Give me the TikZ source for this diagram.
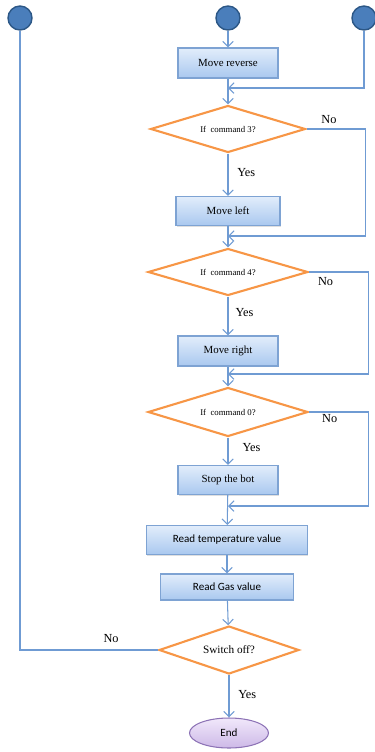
\documentclass[tikz,border=0pt]{standalone}
\usepackage{fontspec}
\setmainfont{Liberation Serif}
\setsansfont{Carlito}
\usepackage{tikz}
\usetikzlibrary{shapes.geometric}
\usetikzlibrary{arrows.meta}
\usetikzlibrary{shadows}
\definecolor{lineblue}{HTML}{6F9BD3}
\definecolor{boxtop}{HTML}{E2EDFB}
\definecolor{boxbot}{HTML}{A9C8EF}
\definecolor{boxline}{HTML}{7EA3D3}
\definecolor{decorange}{HTML}{F79646}
\definecolor{dotfill}{HTML}{4A7EBB}
\definecolor{dotline}{HTML}{2C5786}
\definecolor{endtop}{HTML}{F1E8FB}
\definecolor{endbot}{HTML}{CDB9E7}
\definecolor{endline}{HTML}{8C72B5}

\begin{document}
\begin{tikzpicture}[x=0.02cm,y=-0.02cm,
	flow/.style={draw=lineblue,line width=0.6pt,-{Straight Barb[length=3pt,width=6pt]}},
	link/.style={draw=lineblue,line width=0.6pt},
	dot node/.style={circle, draw=dotline, line width=0.8pt, fill=dotfill, minimum size=0.48cm, inner sep=0},
	task node/.style={rectangle, draw=boxline, line width=0.6pt, top color=boxtop, bottom color=boxbot, inner sep=0, minimum height=0.6cm,
		drop shadow={opacity=0.25, shadow xshift=0.4pt, shadow yshift=-0.6pt}},
	check node/.style={diamond, aspect=4, draw=decorange, line width=1.2pt, fill=white, inner sep=0, minimum height=0.94cm, font=\fontsize{5}{6}\selectfont},
	end node/.style={ellipse, draw=endline, line width=0.6pt, top color=endtop, bottom color=endbot, inner sep=0, minimum width=1.58cm, minimum height=0.6cm, font=\sffamily\fontsize{6.3}{7}\selectfont},
	answer/.style={font=\fontsize{7}{8}\selectfont, inner sep=1pt}]
			\useasboundingbox (0,0) rectangle (375,752);
			% Nodes
			\node [dot node] (c1) at (20,18) {};
			\node [dot node] (c2) at (228,18) {};
			\node [dot node] (c3) at (364,18) {};
			
			\node [task node, minimum width=2cm, font=\fontsize{6.2}{7}\selectfont] (1) at (228,63) {Move reverse};
			\node [check node, minimum width=3.1cm] (d1) at (228,129) {If~~command 3?};
			\node [task node, minimum width=2.08cm, minimum height=0.58cm, font=\fontsize{6.2}{7}\selectfont] (2) at (228,211) {Move left};
			\node [check node, minimum width=3.2cm] (d2) at (228,272) {If~~command 4?};
			\node [task node, minimum width=2cm, font=\fontsize{6.2}{7}\selectfont] (3) at (228,351) {Move right};
			\node [check node, minimum width=3.2cm, minimum height=0.98cm] (d3) at (228,412) {If~~command 0?};
			\node [task node, minimum width=2cm, minimum height=0.58cm, font=\fontsize{6.2}{7}\selectfont] (4) at (228,480) {Stop the bot};
			\node [task node, minimum width=3.22cm, minimum height=0.58cm, font=\sffamily\fontsize{6.3}{7}\selectfont] (5) at (227,540) {Read temperature value};
			\node [task node, minimum width=2.66cm, minimum height=0.52cm, font=\sffamily\fontsize{6.3}{7}\selectfont] (6) at (227,587) {Read Gas value};
			\node [check node, aspect=3, minimum width=2.8cm, minimum height=0.96cm, font=\fontsize{6.4}{7}\selectfont] (d4) at (229,650) {Switch off?};
			\node [end node] (7) at (229,733) {End};
			
			% merge points
			\coordinate (m1) at (228,88);
			\coordinate (m2) at (228,236);
			\coordinate (m3) at (228,374);
			\coordinate (m4) at (228,506);
			
			% main flow
			\draw[flow] (c2) -- (1);
			\draw[flow] (1) -- (d1);
			\draw[flow] (d1) -- node[answer, right, xshift=4pt, yshift=1pt] {Yes} (2);
			\draw[flow] (2) -- (d2);
			\draw[flow] (d2) -- node[answer, right, xshift=3pt, yshift=2pt] {Yes} (3);
			\draw[flow] (3) -- (d3);
			\draw[flow] (d3) -- node[answer, right, xshift=7pt, yshift=2pt] {Yes} (4);
			\draw[flow] (4) -- (5);
			\draw[flow] (5) -- (6);
			\draw[flow] (6) -- (d4);
			\draw[flow] (d4) -- node[answer, right, xshift=4pt, yshift=1pt] {Yes} (7);
			
			% loops
			\draw[flow] (c3) |- (m1);
			\draw[flow] (d1.east) -- node[answer, above, pos=0.38, yshift=2pt] {No} ++(59,0) |- (m2);
			\draw[flow] (d2.east) -- node[answer, below, pos=0.28, yshift=-2pt] {No} ++(59,0) |- (m3);
			\draw[flow] (d3.east) -- node[answer, below, pos=0.35] {No} ++(59,0) |- (m4);
			\draw[link] (d4.west) -| node[answer, above, pos=0.17, yshift=3pt] {No} (c1);
			
		\end{tikzpicture}
\end{document}
